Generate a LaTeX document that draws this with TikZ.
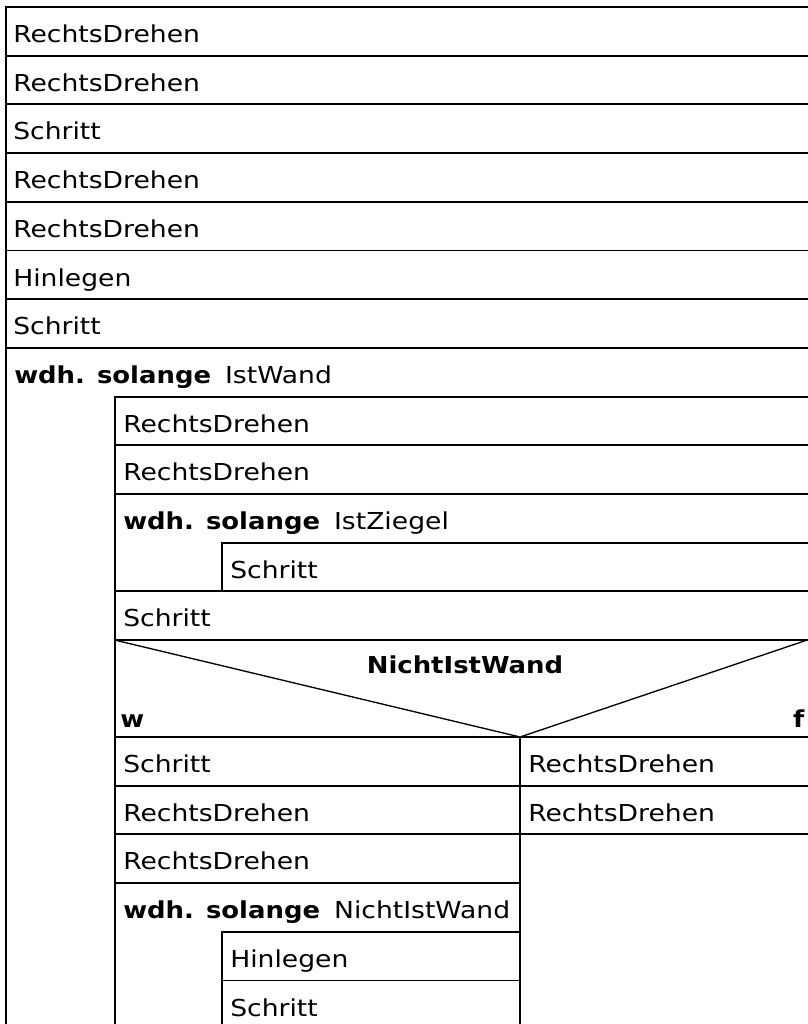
\documentclass[tikz,border=0pt]{standalone}
\usepackage{fontspec}
\setmainfont[FakeStretch=1.14, BoldFont={DejaVu Sans Bold}, BoldFeatures={FakeStretch=1.11}]{DejaVu Sans}
\usepackage{tikz}

\tikzset{
  cell/.style={anchor=base west, inner sep=0pt, font=\fontsize{17.5}{20}\selectfont},
  frame/.style={line width=1.4pt, line cap=rect}
}
\newcommand{\wdh}[1]{\textbf{wdh. solange}\hspace{0.6em}#1}

\begin{document}
\begin{tikzpicture}[x=0.75pt,y=-0.75pt]
\useasboundingbox (0,0) rectangle (807,1024);

% outer block
\draw[frame] (6,1024) -- (6,7) -- (807,7);
\draw[frame] (6,55.7) -- (807,55.7) (6,104.4) -- (807,104.4) (6,153.1) -- (807,153.1)
  (6,201.8) -- (807,201.8) (6,250.5) -- (807,250.5) (6,299.2) -- (807,299.2) (6,347.9) -- (807,347.9);
\node[cell] (rd1) at (13,42.5) {RechtsDrehen};
\node[cell] (rd2) at (13,91.2) {RechtsDrehen};
\node[cell] (s1) at (13,139.9) {Schritt};
\node[cell] (rd3) at (13,188.6) {RechtsDrehen};
\node[cell] (rd4) at (13,237.3) {RechtsDrehen};
\node[cell] (hl1) at (13,286) {Hinlegen};
\node[cell] (s2) at (13,334.7) {Schritt};
\node[cell] (loopA) at (14,383.4) {\wdh{IstWand}};

% body of IstWand loop
\draw[frame] (115,1024) -- (115,396.6) -- (807,396.6);
\draw[frame] (115,445.3) -- (807,445.3) (115,494) -- (807,494);
\draw[frame] (222,591.4) -- (222,542.7) -- (807,542.7);
\draw[frame] (115,591.4) -- (807,591.4) (115,640.1) -- (807,640.1);
\node[cell] (rd5) at (123,432.1) {RechtsDrehen};
\node[cell] (rd6) at (123,480.8) {RechtsDrehen};
\node[cell] (loopB) at (123,529.5) {\wdh{IstZiegel}};
\node[cell] (s3) at (230,578.2) {Schritt};
\node[cell] (s4) at (123,626.9) {Schritt};

% decision
\draw[line width=1pt] (115,640.1) -- (520,737) -- (807,640.1);
\draw[frame] (115,737) -- (807,737);
\node[cell, anchor=base] (cond) at (465,673.5) {\textbf{NichtIstWand}};
\node[cell] (yes) at (120,727) {\textbf{w}};
\node[cell, anchor=base east] (no) at (805,727) {\textbf{f}};

% true branch
\draw[frame] (520,737) -- (520,1024);
\draw[frame] (115,785.7) -- (807,785.7) (115,834.4) -- (807,834.4) (115,883.1) -- (520,883.1);
\draw[frame] (222,1024) -- (222,931.8) -- (520,931.8) (222,980.5) -- (520,980.5);
\node[cell] (s5) at (123,772.5) {Schritt};
\node[cell] (rd7) at (123,821.2) {RechtsDrehen};
\node[cell] (rd8) at (123,869.9) {RechtsDrehen};
\node[cell] (loopC) at (123,918.6) {\wdh{NichtIstWand}};
\node[cell] (hl2) at (230,967.3) {Hinlegen};
\node[cell] (s6) at (230,1016) {Schritt};

% false branch
\node[cell] (rd9) at (528,772.5) {RechtsDrehen};
\node[cell] (rd10) at (528,821.2) {RechtsDrehen};
\end{tikzpicture}
\end{document}
